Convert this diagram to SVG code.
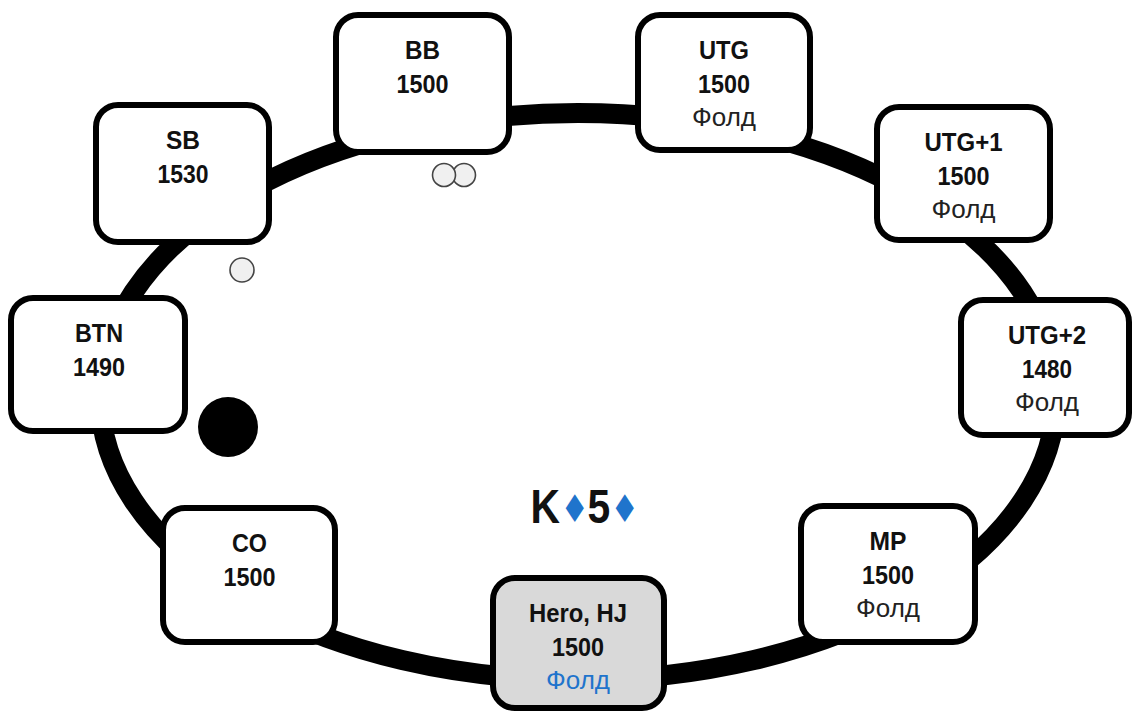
<svg xmlns="http://www.w3.org/2000/svg" width="1133" height="713" viewBox="0 0 1133 713">
<style>
.box{fill:#fff;stroke:#000;stroke-width:6}
.hero{fill:#d9d9d9}
.t{font-family:"Liberation Sans",Arial,sans-serif;font-size:26px;font-weight:bold;fill:#111;text-anchor:middle}
.f{font-family:"Liberation Sans",Arial,sans-serif;font-size:26px;font-weight:normal;fill:#222;text-anchor:middle}
.fb{fill:#1f74cc}
.chip{fill:#f0f0f0;stroke:#444;stroke-width:1.6}
.dia{font-family:"DejaVu Sans",sans-serif;font-weight:normal;fill:#1f74cc}
</style>
<rect width="1133" height="713" fill="#fff"/>
<g id="connectors">
<ellipse cx="578" cy="396.5" rx="478" ry="283.5" fill="none" stroke="#000" stroke-width="20"/>
</g>
<g id="BB">
<rect class="box" x="336" y="15" width="173" height="137" rx="22"/>
<text class="t" x="422.5" y="59" textLength="35" lengthAdjust="spacingAndGlyphs">BB</text>
<text class="t" x="422.5" y="93" textLength="52" lengthAdjust="spacingAndGlyphs">1500</text>
</g>
<g id="UTG">
<rect class="box" x="638" y="15" width="172" height="135" rx="22"/>
<text class="t" x="724" y="59" textLength="50" lengthAdjust="spacingAndGlyphs">UTG</text>
<text class="t" x="724" y="93" textLength="52" lengthAdjust="spacingAndGlyphs">1500</text>
<text class="f" x="724" y="126">Фолд</text>
</g>
<g id="UTG1">
<rect class="box" x="877" y="107" width="173" height="133" rx="22"/>
<text class="t" x="963.5" y="151" textLength="78" lengthAdjust="spacingAndGlyphs">UTG+1</text>
<text class="t" x="963.5" y="185" textLength="52" lengthAdjust="spacingAndGlyphs">1500</text>
<text class="f" x="963.5" y="218">Фолд</text>
</g>
<g id="UTG2">
<rect class="box" x="961" y="300" width="168" height="135" rx="22"/>
<text class="t" x="1047" y="344" textLength="78" lengthAdjust="spacingAndGlyphs">UTG+2</text>
<text class="t" x="1047" y="378" textLength="50" lengthAdjust="spacingAndGlyphs">1480</text>
<text class="f" x="1047" y="411">Фолд</text>
</g>
<g id="BTN">
<rect class="box" x="11" y="298" width="174" height="133" rx="22"/>
<text class="t" x="99" y="342" textLength="48" lengthAdjust="spacingAndGlyphs">BTN</text>
<text class="t" x="99" y="376" textLength="52" lengthAdjust="spacingAndGlyphs">1490</text>
</g>
<g id="SB">
<rect class="box" x="96" y="105" width="173" height="137" rx="22"/>
<text class="t" x="183" y="149" textLength="34" lengthAdjust="spacingAndGlyphs">SB</text>
<text class="t" x="183" y="183" textLength="51" lengthAdjust="spacingAndGlyphs">1530</text>
</g>
<g id="CO">
<rect class="box" x="163" y="508" width="172" height="134" rx="22"/>
<text class="t" x="249.5" y="552" textLength="35" lengthAdjust="spacingAndGlyphs">CO</text>
<text class="t" x="249.5" y="586" textLength="52" lengthAdjust="spacingAndGlyphs">1500</text>
</g>
<g id="Hero">
<rect class="box hero" x="493" y="578" width="171" height="130" rx="22"/>
<text class="t" x="578" y="622" textLength="98" lengthAdjust="spacingAndGlyphs">Hero, HJ</text>
<text class="t" x="578" y="656" textLength="52" lengthAdjust="spacingAndGlyphs">1500</text>
<text class="f fb" x="578" y="689">Фолд</text>
</g>
<g id="MP">
<rect class="box" x="801" y="506" width="174" height="136" rx="22"/>
<text class="t" x="888" y="550" textLength="37" lengthAdjust="spacingAndGlyphs">MP</text>
<text class="t" x="888" y="584" textLength="52" lengthAdjust="spacingAndGlyphs">1500</text>
<text class="f" x="888" y="617">Фолд</text>
</g>
<g id="chips">
<circle class="chip" cx="464" cy="175" r="11.5"/>
<circle class="chip" cx="444" cy="175" r="11.5"/>
<circle class="chip" cx="242" cy="270" r="12"/>
<circle cx="228" cy="427" r="30" fill="#000"/>
</g>
<g id="cards">
<text transform="translate(533,523) scale(0.85,1)" font-family="Liberation Sans,Arial,sans-serif" font-weight="bold" font-size="48" fill="#111"><tspan x="-3">K</tspan><tspan class="dia" x="32" y="-1" font-size="38">♦</tspan><tspan x="64" y="0">5</tspan><tspan class="dia" x="91" y="-1" font-size="38">♦</tspan></text>
</g>
</svg>
